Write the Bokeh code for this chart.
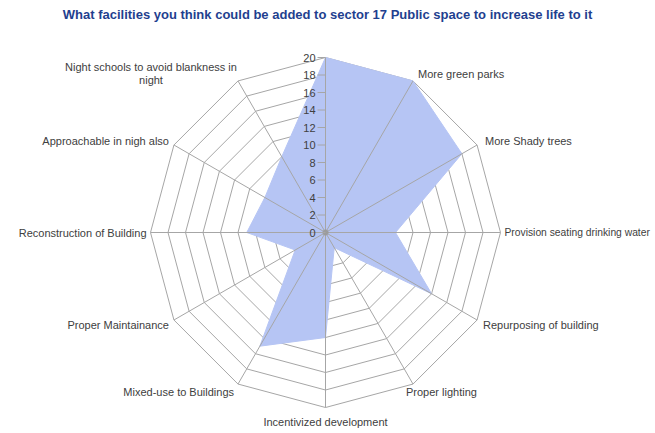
import numpy as np
from bokeh.plotting import figure
from bokeh.models import Range1d
from bokeh.embed import file_html
from bokeh.resources import INLINE
from bokeh.core.properties import value

# ---------------- data ----------------
title_text = "What facilities you think could be added to sector 17 Public space to increase life to it"
categories = [
    "",
    "More green parks",
    "More Shady trees",
    "Provision seating drinking water",
    "Repurposing of building",
    "Proper lighting",
    "Incentivized development",
    "Mixed-use to Buildings",
    "Proper Maintainance",
    "Reconstruction of Building",
    "Approachable in nigh also",
    "Night schools to avoid blankness in\nnight",
]
values = [20, 20, 18, 8, 14, 2, 12, 15, 4, 9, 8, 10]
tick_values = [0, 2, 4, 6, 8, 10, 12, 14, 16, 18, 20]
tick_labels = [str(v) for v in tick_values]
r_max = 20

# ---------------- layout ----------------
W, H = 655, 433
S = 8.75            # pixels per unit
cx, cy = 325, 232   # centre in pixels (from top-left)

FONT = "Liberation Sans"
GRID = "#A6A6A6"
FILL = "#B6C5F4"
TXT = "#404040"

p = figure(width=W, height=H, output_backend="svg", toolbar_location=None,
           x_range=Range1d(-cx / S, (W - cx) / S),
           y_range=Range1d(-(H - cy) / S, cy / S),
           min_border=0, x_axis_location=None, y_axis_location=None,
           outline_line_color=None, background_fill_color="white")
p.grid.visible = False

n = len(categories)
theta = np.arange(n) * 2 * np.pi / n
sx, sy = np.sin(theta), np.cos(theta)

# rings
ring_xs, ring_ys = [], []
for v in tick_values[1:]:
    ring_xs.append(list(v * sx) + [v * sx[0]])
    ring_ys.append(list(v * sy) + [v * sy[0]])
p.multi_line(ring_xs, ring_ys, line_color=GRID, line_width=1)

# data area
p.patch(list(np.array(values) * sx), list(np.array(values) * sy),
        fill_color=FILL, line_color=FILL, line_width=1)

# spokes
p.multi_line([[0, r_max * a] for a in sx], [[0, r_max * b] for b in sy],
             line_color=GRID, line_width=1)
p.scatter([0], [0], size=6, fill_color="#999999", line_color=None, alpha=0.8)

# ticks on the vertical axis
px = 1.0 / S
p.multi_line([[-8 * px, 0] for _ in tick_values], [[v, v] for v in tick_values],
             line_color=GRID, line_width=1)
p.text(x=[-10 * px] * len(tick_values), y=tick_values, text=tick_labels,
       text_align="right", text_baseline="middle", text_font=value(FONT),
       text_font_size="11px", text_color=TXT)

# category labels: (align, dx px, dy px, font size) relative to outer vertex
offsets = {
    1: ("left", 5, -7, "11px"),
    2: ("left", 8, -4, "11px"),
    3: ("left", 4, 0, "10.3px"),
    4: ("left", 6, 5, "11px"),
    5: ("left", -7, 8, "11px"),
    6: ("center", 0, 14, "11px"),
    7: ("right", -4, 8, "11px"),
    8: ("right", -5, 5, "11px"),
    9: ("right", -4, 0, "11px"),
    10: ("right", -5, -4, "11px"),
    11: ("center", -87, -7, "11px"),
}
for i, cat in enumerate(categories):
    if not cat or i not in offsets:
        continue
    align, dx, dy, fs = offsets[i]
    x0 = r_max * sx[i] + dx * px
    y0 = r_max * sy[i] - dy * px
    lines = cat.split("\n")
    lh = 13
    for k, ln in enumerate(lines):
        yk = y0 - (k - (len(lines) - 1) / 2) * lh * px
        p.text(x=[x0], y=[yk], text=[ln], text_align=align, text_baseline="middle",
               text_font=value(FONT), text_font_size=fs, text_color=TXT)

# title
p.text(x=[(327 - cx) * px], y=[(cy - 14) * px], text=[title_text], text_align="center",
       text_baseline="middle", text_font=value(FONT), text_font_size="13px",
       text_font_style="bold", text_color="#1F3F8F")

open("out.html", "w").write(file_html(p, INLINE))
